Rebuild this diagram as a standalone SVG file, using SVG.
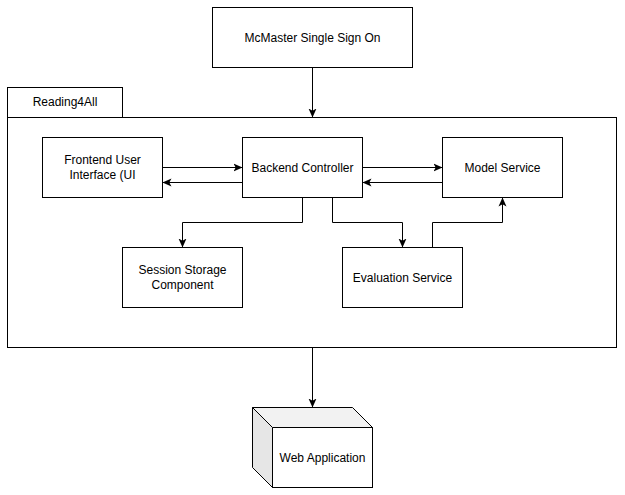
<svg xmlns="http://www.w3.org/2000/svg" width="625" height="495" viewBox="0 0 625 495">
<defs>
<style>
.box{fill:#ffffff;stroke:#000000;stroke-width:1}
.lbl{font-family:"Liberation Sans",Arial,Helvetica,sans-serif;font-size:12px;fill:#000000;text-anchor:middle}
.edge{fill:none;stroke:#000000;stroke-width:1}
</style>
<marker id="arr" viewBox="0 0 9 9" refX="9" refY="4.5" markerWidth="9" markerHeight="9" markerUnits="userSpaceOnUse" orient="auto">
<path d="M0,0.5 L9,4.5 L0,8.5 L2.2,4.5 Z" fill="#000000"/>
</marker>
</defs>
<rect width="625" height="495" fill="#ffffff"/>

<g id="container">
<rect class="box" x="7.5" y="87.5" width="115" height="30"/>
<text class="lbl" x="65" y="106">Reading4All</text>
<rect class="box" x="7.5" y="117.5" width="609" height="230"/>
</g>

<g id="sso">
<rect class="box" x="212.5" y="7.5" width="200" height="60"/>
<text class="lbl" x="312.5" y="42">McMaster Single Sign On</text>
</g>

<g id="frontend">
<rect class="box" x="42.5" y="137.5" width="120" height="60"/>
<text class="lbl" x="102.5" y="164">Frontend User</text>
<text class="lbl" x="102.5" y="179">Interface (UI</text>
</g>

<g id="backend">
<rect class="box" x="242.5" y="137.5" width="120" height="60"/>
<text class="lbl" x="302.5" y="171.5">Backend Controller</text>
</g>

<g id="model">
<rect class="box" x="442.5" y="137.5" width="120" height="60"/>
<text class="lbl" x="502.5" y="171.5">Model Service</text>
</g>

<g id="session">
<rect class="box" x="122.5" y="247.5" width="120" height="60"/>
<text class="lbl" x="182.5" y="274">Session Storage</text>
<text class="lbl" x="182.5" y="289">Component</text>
</g>

<g id="evaluation">
<rect class="box" x="342.5" y="247.5" width="120" height="60"/>
<text class="lbl" x="402.5" y="281.5">Evaluation Service</text>
</g>

<g id="webapp">
<rect class="box" x="272.5" y="427.5" width="100" height="60"/>
<polygon points="252.5,407.5 352.5,407.5 372.5,427.5 272.5,427.5" fill="#f2f2f2" stroke="#000000" stroke-width="1"/>
<polygon points="252.5,407.5 272.5,427.5 272.5,487.5 252.5,467.5" fill="#e6e6e6" stroke="#000000" stroke-width="1"/>
<text class="lbl" x="322.5" y="461.5">Web Application</text>
</g>

<g id="connectors">
<path class="edge" d="M312.5,67.5 V117.5" marker-end="url(#arr)"/>
<path class="edge" d="M162.5,167.5 H242.5" marker-end="url(#arr)"/>
<path class="edge" d="M242.5,182.5 H162.5" marker-end="url(#arr)"/>
<path class="edge" d="M362.5,167.5 H442.5" marker-end="url(#arr)"/>
<path class="edge" d="M442.5,182.5 H362.5" marker-end="url(#arr)"/>
<path class="edge" d="M302.5,197.5 V222.5 H182.5 V247.5" marker-end="url(#arr)"/>
<path class="edge" d="M332.5,197.5 V222.5 H402.5 V247.5" marker-end="url(#arr)"/>
<path class="edge" d="M432.5,247.5 V222.5 H502.5 V197.5" marker-end="url(#arr)"/>
<path class="edge" d="M312.5,347.5 V407.5" marker-end="url(#arr)"/>
</g>
</svg>
